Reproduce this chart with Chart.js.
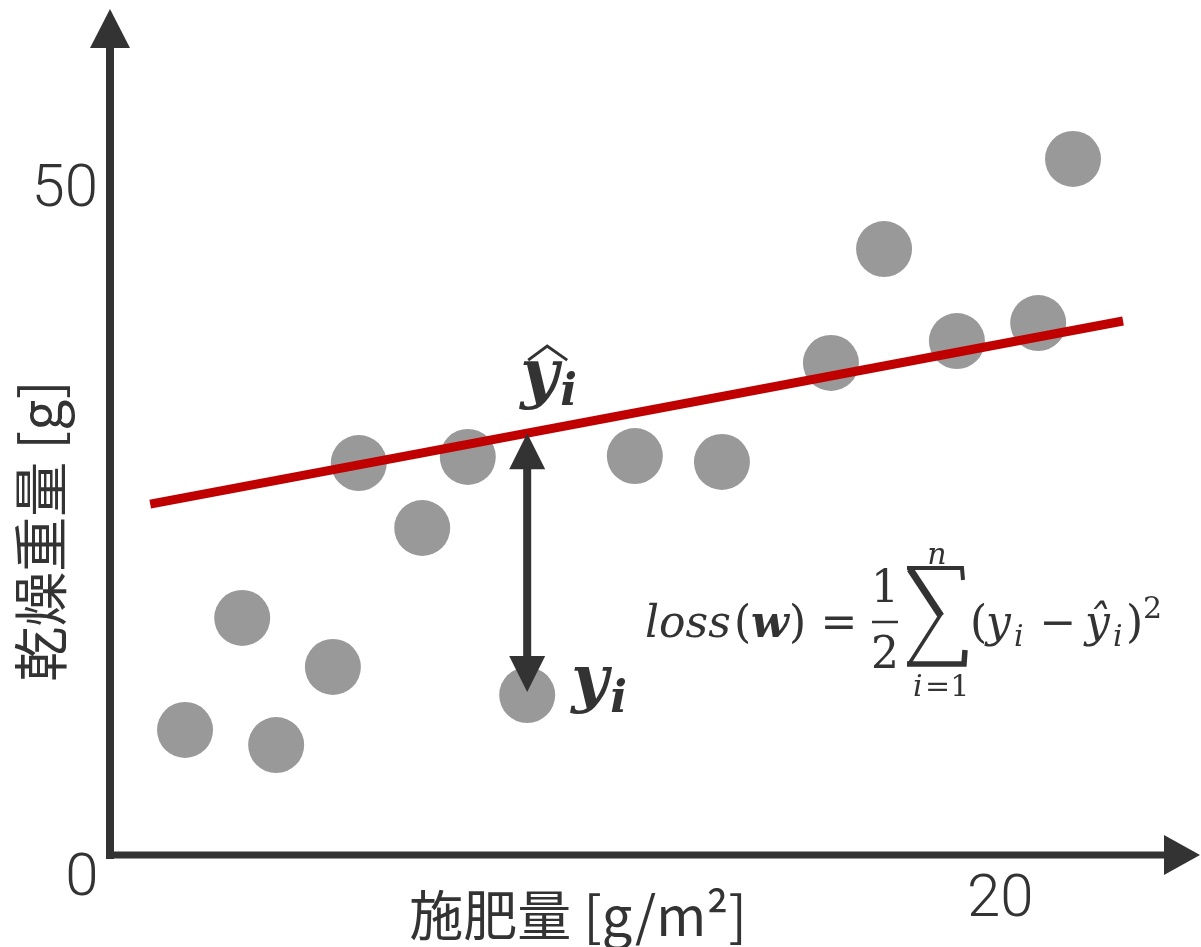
<!DOCTYPE html>
<html>
<head>
<meta charset="utf-8">
<script src="https://cdn.jsdelivr.net/npm/chart.js@4.4.1/dist/chart.umd.min.js"></script>
<style>
  html, body { margin: 0; padding: 0; background: #fff; }
  #wrap { width: 1201px; height: 947px; }
</style>
</head>
<body>
<div id="wrap"><canvas id="chart"></canvas></div>
<script>
// fertiliser [g/m2] vs dry weight [g], one entry per plot
var fertilizer = [1.68, 2.96, 3.72, 4.99, 5.57, 6.99, 8.01, 9.34, 11.75, 13.70, 16.14, 17.33, 18.96, 20.78, 21.56]
var dryWeight = [9.45, 17.91, 8.31, 14.21, 29.62, 24.71, 30.08, 12.09, 30.15, 29.70, 37.18, 45.79, 38.84, 40.20, 52.60]

// regression line, start and end
var fitX = [0.9, 22.68]
var fitY = [26.52, 40.35]

var xTicks = [20]
var yTicks = [50]
var residualIdx = 7   // the point used to show y_i vs y-hat_i

var INK = '#333333'
var SANS = '"Roboto", "Liberation Sans", sans-serif'
var CJK = '"Noto Sans CJK JP", sans-serif'
var MATH = '"DejaVu Serif", "Liberation Serif", serif'

function fitAt(x) {
  return fitY[0] + (x - fitX[0]) * (fitY[1] - fitY[0]) / (fitX[1] - fitX[0])
}

// filled triangle, tip at (tx,ty), pointing along (dx,dy)
function arrowHead(ctx, tx, ty, dx, dy, len, half) {
  ctx.beginPath()
  ctx.moveTo(tx, ty)
  ctx.lineTo(tx - dx * len - dy * half, ty - dy * len + dx * half)
  ctx.lineTo(tx - dx * len + dy * half, ty - dy * len - dx * half)
  ctx.closePath()
  ctx.fill()
}

function text(ctx, s, x, y, font, align) {
  ctx.font = font
  ctx.textAlign = align || 'left'
  ctx.fillText(s, x, y)
}

var axesPlugin = {
  id: 'arrowAxes',
  beforeDatasetsDraw: function (chart) {
    var ctx = chart.ctx
    var xs = chart.scales.x, ys = chart.scales.y
    var x0 = xs.getPixelForValue(0), y0 = ys.getPixelForValue(0)
    ctx.save()
    ctx.strokeStyle = INK
    ctx.fillStyle = INK

    // y axis with arrow
    ctx.lineWidth = 8
    ctx.beginPath()
    ctx.moveTo(x0, y0 + 4)
    ctx.lineTo(x0, 44)
    ctx.stroke()
    arrowHead(ctx, x0, 9, 0, -1, 39, 20)

    // x axis with arrow
    ctx.lineWidth = 7
    ctx.beginPath()
    ctx.moveTo(x0 - 4, y0)
    ctx.lineTo(1170, y0)
    ctx.stroke()
    arrowHead(ctx, 1200, y0, 1, 0, 36, 20)

    // tick labels
    ctx.textBaseline = 'middle'
    text(ctx, '0', x0 - 28, y0 + 25, '300 60px ' + SANS, 'center')
    yTicks.forEach(function (v) {
      text(ctx, String(v), x0 - 12, ys.getPixelForValue(v) - 2, '300 60px ' + SANS, 'right')
    })
    xTicks.forEach(function (v) {
      text(ctx, String(v), xs.getPixelForValue(v) - 3, y0 + 46, '300 60px ' + SANS, 'center')
    })

    // axis titles
    text(ctx, '施肥量 [g/m²]', 578, 915, '54px ' + CJK, 'center')
    ctx.save()
    ctx.translate(40, 531)
    ctx.rotate(-Math.PI / 2)
    text(ctx, '乾燥重量 [g]', 0, 0, '55px ' + CJK, 'center')
    ctx.restore()
    ctx.restore()
  },

  afterDatasetsDraw: function (chart) {
    var ctx = chart.ctx
    var xs = chart.scales.x, ys = chart.scales.y
    var xv = fertilizer[residualIdx]
    var px = xs.getPixelForValue(xv)
    var top = ys.getPixelForValue(fitAt(xv))
    var bot = ys.getPixelForValue(dryWeight[residualIdx]) - 3

    ctx.save()
    ctx.strokeStyle = INK
    ctx.fillStyle = INK

    // double-headed residual arrow
    ctx.lineWidth = 8
    ctx.beginPath()
    ctx.moveTo(px, top + 30)
    ctx.lineTo(px, bot - 30)
    ctx.stroke()
    arrowHead(ctx, px, top, 0, -1, 36, 18)
    arrowHead(ctx, px, bot, 0, 1, 36, 18)

    // y-hat_i above the line
    ctx.textBaseline = 'alphabetic'
    text(ctx, 'y', px - 7, top - 38, 'italic bold 66px ' + MATH)
    text(ctx, 'i', px + 33, top - 28, 'italic bold 44px ' + MATH)
    ctx.lineWidth = 3
    ctx.beginPath()
    ctx.moveTo(px + 1, top - 73)
    ctx.lineTo(px + 20, top - 87)
    ctx.lineTo(px + 40, top - 73)
    ctx.stroke()

    // y_i beside the point
    var pyi = ys.getPixelForValue(dryWeight[residualIdx])
    text(ctx, 'y', px + 44, pyi + 5, 'italic bold 64px ' + MATH)
    text(ctx, 'i', px + 83, pyi + 17, 'italic bold 44px ' + MATH)

    // loss formula
    var base = 637
    var f = '44px ' + MATH, fi = 'italic 44px ' + MATH, fs = 'italic 30px ' + MATH
    text(ctx, 'loss', 645, base, fi)
    text(ctx, '(', 734, base, f)
    text(ctx, 'w', 751, base, 'italic bold 44px ' + MATH)
    text(ctx, ')', 789, base, f)
    text(ctx, '=', 839, base, f, 'center')
    text(ctx, '1', 885, 602, f, 'center')
    text(ctx, '2', 885, 668, f, 'center')
    ctx.lineWidth = 2.5
    ctx.beginPath()
    ctx.moveTo(872, 622)
    ctx.lineTo(898, 622)
    ctx.stroke()

    // summation sign
    ctx.lineCap = 'butt'
    ctx.lineWidth = 4
    ctx.beginPath()
    ctx.moveTo(907, 568); ctx.lineTo(962, 568); ctx.lineTo(963, 580)
    ctx.stroke()
    ctx.lineWidth = 7
    ctx.beginPath()
    ctx.moveTo(910, 569); ctx.lineTo(941, 616)
    ctx.stroke()
    ctx.lineWidth = 3.5
    ctx.beginPath()
    ctx.moveTo(941, 614); ctx.lineTo(909, 664)
    ctx.stroke()
    ctx.lineWidth = 5.5
    ctx.beginPath()
    ctx.moveTo(907, 664); ctx.lineTo(964, 664); ctx.lineTo(965, 650)
    ctx.stroke()
    text(ctx, 'n', 937, 564, fs, 'center')
    text(ctx, 'i', 913, 696, fs)
    text(ctx, '=1', 925, 696, '30px ' + MATH)

    text(ctx, '(', 970, base, f)
    text(ctx, 'y', 986, base, fi)
    text(ctx, 'i', 1014, base + 9, fs)
    text(ctx, '−', 1058, base, f, 'center')
    text(ctx, 'ŷ', 1085, base, fi)
    text(ctx, 'i', 1113, base + 9, fs)
    text(ctx, ')', 1126, base, f)
    text(ctx, '2', 1143, 618, '30px ' + MATH)
    ctx.restore()
  }
}

var points = fertilizer.map(function (x, i) { return { x: x, y: dryWeight[i] } })
var fitLine = fitX.map(function (x, i) { return { x: x, y: fitY[i] } })

new Chart(document.getElementById('chart'), {
  type: 'scatter',
  data: {
    datasets: [
      {
        data: fitLine,
        showLine: true,
        borderColor: '#c00000',
        borderWidth: 9,
        pointRadius: 0,
        order: 0,
        clip: false
      },
      {
        data: points,
        backgroundColor: '#999999',
        borderWidth: 0,
        pointRadius: 28,
        pointHoverRadius: 28,
        order: 1,
        clip: false
      }
    ]
  },
  options: {
    responsive: true,
    maintainAspectRatio: false,
    animation: false,
    events: [],
    layout: {
      autoPadding: false,
      padding: { left: 110, right: 19, top: 61, bottom: 92 }
    },
    plugins: {
      legend: { display: false },
      tooltip: { enabled: false }
    },
    scales: {
      x: { type: 'linear', min: 0, max: 24, display: false },
      y: { type: 'linear', min: 0, max: 60, display: false }
    }
  },
  plugins: [axesPlugin]
})
</script>
</body>
</html>
